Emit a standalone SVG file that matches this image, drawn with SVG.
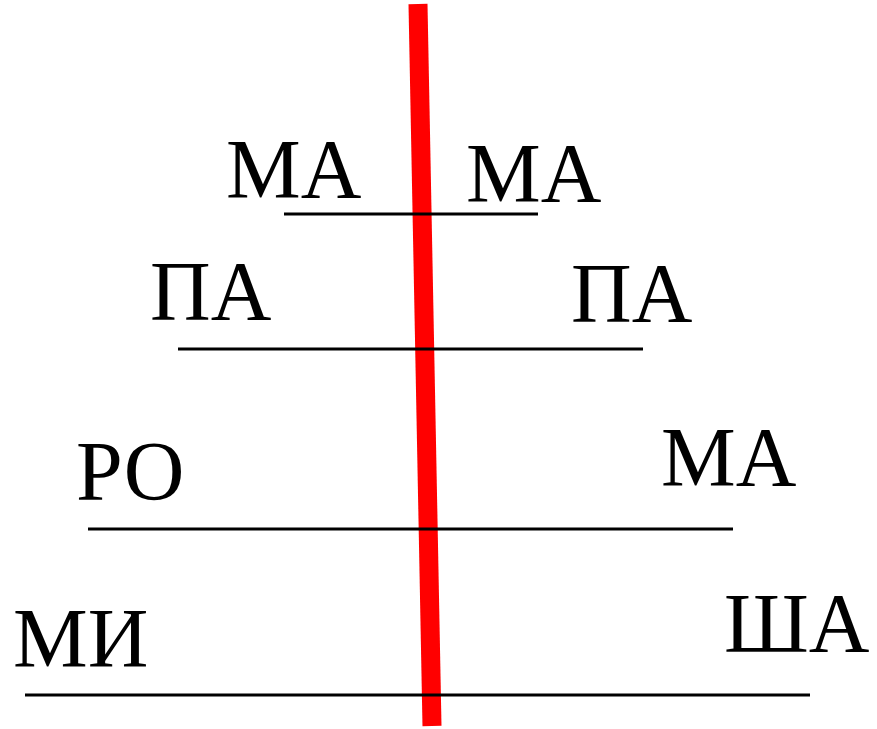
<svg xmlns="http://www.w3.org/2000/svg" width="877" height="729" viewBox="0 0 877 729">
<style>
.t{font-family:"Liberation Serif","Times New Roman",serif;font-size:84px;fill:#000}
.h{stroke:#000;stroke-width:3;fill:none}
</style>
<rect width="877" height="729" fill="#fff"/>
<g id="axis"><line x1="418" y1="4" x2="432" y2="726" stroke="#ff0000" stroke-width="19"/></g>
<g id="connectors">
<line class="h" x1="284" y1="214" x2="538" y2="214"/>
<line class="h" x1="178" y1="349" x2="643" y2="349"/>
<line class="h" x1="88" y1="529" x2="733" y2="529"/>
<line class="h" x1="25" y1="695" x2="810" y2="695"/>
</g>
<g id="l1"><text class="t" x="226" y="198">МА</text></g>
<g id="r1"><text class="t" x="466" y="202">МА</text></g>
<g id="l2"><text class="t" x="150" y="320">ПА</text></g>
<g id="r2"><text class="t" x="571" y="322">ПА</text></g>
<g id="l3"><text class="t" x="76" y="500">РО</text></g>
<g id="r3"><text class="t" x="661" y="486">МА</text></g>
<g id="l4"><text class="t" x="13" y="667">МИ</text></g>
<g id="r4"><text class="t" x="724" y="652">ША</text></g>
</svg>
